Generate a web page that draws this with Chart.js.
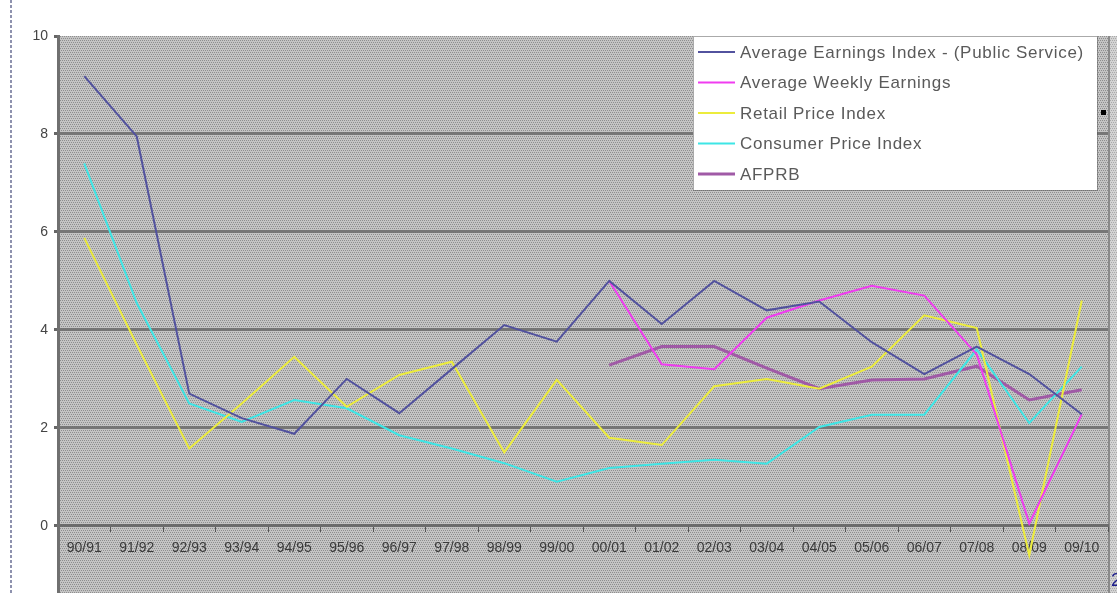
<!DOCTYPE html>
<html>
<head>
<meta charset="utf-8">
<script src="https://cdn.jsdelivr.net/npm/chart.js@4.4.1/dist/chart.umd.min.js"></script>
<style>
html, body { margin: 0; padding: 0; background: #fff; }
#wrap { position: relative; width: 1117px; height: 593px; }
</style>
</head>
<body>
<div id="wrap"><canvas id="earningsChart"></canvas></div>
<script>
// Data (% change per year)
const years = ['90/91', '91/92', '92/93', '93/94', '94/95', '95/96', '96/97', '97/98', '98/99', '99/00',
               '00/01', '01/02', '02/03', '03/04', '04/05', '05/06', '06/07', '07/08', '08/09', '09/10'];
const aeiPublic = [9.18, 7.95, 2.7, 2.2, 1.88, 3.0, 2.3, 3.2, 4.1, 3.76, 5.0, 4.12, 5.0, 4.4, 4.58, 3.75, 3.1, 3.66, 3.1, 2.28];
const weeklyEarnings = [null, null, null, null, null, null, null, null, null, null, 5.0, 3.3, 3.2, 4.25, 4.6, 4.9, 4.7, 3.5, 0.05, 2.28];
const retailPrice = [5.88, 3.7, 1.58, 2.5, 3.45, 2.43, 3.08, 3.35, 1.5, 2.98, 1.8, 1.65, 2.85, 3.0, 2.8, 3.25, 4.3, 4.04, -0.6, 4.6];
const consumerPrice = [7.4, 4.55, 2.5, 2.12, 2.57, 2.4, 1.85, 1.58, 1.28, 0.9, 1.18, 1.27, 1.35, 1.27, 2.02, 2.27, 2.27, 3.6, 2.1, 3.25];
const afprb = [null, null, null, null, null, null, null, null, null, null, 3.28, 3.66, 3.66, 3.22, 2.8, 2.98, 3.0, 3.26, 2.57, 2.78];
const yTicks = [0, 2, 4, 6, 8, 10];

const seriesNames = ['Average Earnings Index - (Public Service)', 'Average Weekly Earnings', 'Retail Price Index', 'Consumer Price Index', 'AFPRB'];

const FONT = '"Liberation Sans", Arial, sans-serif';

// Excel style dotted grey fill
const makePattern = (ctx) => {
    const tile = document.createElement('canvas');
    tile.width = 4;
    tile.height = 4;
    const t = tile.getContext('2d');
    t.fillStyle = '#c4c4c4';
    t.fillRect(0, 0, 4, 4);
    t.fillStyle = '#8e8e8e';
    [[0, 0], [2, 0], [1, 2], [3, 2]].forEach(([x, y]) => t.fillRect(x, y, 1, 1));
    return ctx.createPattern(tile, 'repeat');
};

const backdrop = {
    id: 'backdrop',
    beforeDraw(chart) {
        const { ctx, chartArea, width, height } = chart;
        ctx.save();
        ctx.fillStyle = '#fff';
        ctx.fillRect(0, 0, width, height);
        ctx.fillStyle = makePattern(ctx);
        ctx.fillRect(chartArea.left, chartArea.top, width - chartArea.left, height - chartArea.top);
        ctx.fillStyle = 'rgba(255,255,255,0.25)';
        ctx.fillRect(chartArea.right + 2, chartArea.top, width - chartArea.right, height - chartArea.top);
        ctx.fillStyle = '#8a8a8a';
        ctx.fillRect(chartArea.right, chartArea.top, 2, height - chartArea.top);
        // dashed frame on the left
        ctx.strokeStyle = '#8e92ae';
        ctx.lineWidth = 2;
        ctx.setLineDash([3, 2]);
        ctx.beginPath();
        ctx.moveTo(11, 0);
        ctx.lineTo(11, height);
        ctx.stroke();
        ctx.restore();
    }
};

const boxLegend = {
    id: 'boxLegend',
    afterDraw(chart) {
        const { ctx } = chart;
        const x = 693, y = 36, w = 404, h = 154;
        ctx.save();
        ctx.fillStyle = '#fff';
        ctx.fillRect(x, y, w, h);
        ctx.strokeStyle = '#555';
        ctx.lineWidth = 1;
        ctx.setLineDash([1, 1]);
        ctx.strokeRect(x + 0.5, y + 0.5, w, h);
        ctx.setLineDash([]);
        ctx.font = '17px ' + FONT;
        ctx.letterSpacing = '0.7px';
        ctx.textBaseline = 'middle';
        chart.data.datasets.forEach((ds, i) => {
            const rowY = 52 + i * 30.5;
            ctx.strokeStyle = ds.borderColor;
            ctx.lineWidth = ds.borderWidth;
            ctx.beginPath();
            ctx.moveTo(698, rowY);
            ctx.lineTo(735, rowY);
            ctx.stroke();
            ctx.fillStyle = '#5a5a5a';
            ctx.fillText(ds.label, 740, rowY + 1);
        });
        ctx.letterSpacing = '0px';
        // small marker and page number
        ctx.fillStyle = '#000';
        ctx.fillRect(1101, 110, 5, 5);
        ctx.fillStyle = '#1c1c8c';
        ctx.font = '18px ' + FONT;
        ctx.textBaseline = 'alphabetic';
        ctx.fillText('2', 1111, 586);
        ctx.restore();
    }
};

const makeSeries = (label, data, color, width) => ({
    label: label,
    data: data,
    borderColor: color,
    backgroundColor: color,
    borderWidth: width,
    pointRadius: 0,
    tension: 0,
    fill: false
});

const ctx = document.getElementById('earningsChart').getContext('2d');

new Chart(ctx, {
    type: 'line',
    data: {
        labels: years,
        datasets: [
            makeSeries(seriesNames[0], aeiPublic, '#52529e', 2),
            makeSeries(seriesNames[1], weeklyEarnings, '#f03cf0', 2),
            makeSeries(seriesNames[2], retailPrice, '#ecec3c', 2),
            makeSeries(seriesNames[3], consumerPrice, '#3ee6e6', 2),
            makeSeries(seriesNames[4], afprb, '#a05aa6', 3)
        ]
    },
    options: {
        responsive: true,
        maintainAspectRatio: false,
        animation: false,
        layout: {
            padding: { top: 36, right: 9, bottom: 0, left: 0 }
        },
        plugins: {
            legend: { display: false },
            tooltip: { enabled: false }
        },
        scales: {
            x: {
                type: 'category',
                offset: true,
                position: { y: 0 },
                grid: {
                    drawOnChartArea: false,
                    offset: true,
                    tickLength: 5,
                    color: '#555'
                },
                border: { color: '#6c6c6c', width: 3 },
                ticks: {
                    autoSkip: false,
                    maxRotation: 0,
                    padding: 9,
                    color: '#3a3a3a',
                    font: { family: FONT, size: 14 }
                }
            },
            y: {
                min: -1.37,
                max: 10,
                afterBuildTicks: (scale) => {
                    scale.ticks = yTicks.map(v => ({ value: v }));
                },
                afterFit: (scale) => {
                    scale.width = 58;
                    scale.paddingBottom = 0;
                    scale.paddingTop = 0;
                },
                grid: {
                    color: (c) => (c.tick && c.tick.value === 10) ? 'rgba(0,0,0,0)' : '#767676',
                    lineWidth: 3,
                    tickColor: '#666',
                    tickLength: 4
                },
                border: { color: '#707070', width: 3 },
                ticks: {
                    padding: 6,
                    color: '#444',
                    font: { family: FONT, size: 14 }
                }
            }
        }
    },
    plugins: [backdrop, boxLegend]
});
</script>
</body>
</html>
